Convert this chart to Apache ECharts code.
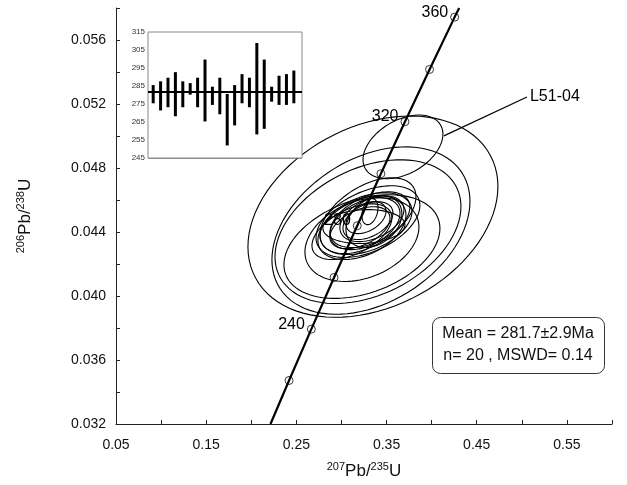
<!DOCTYPE html>
<html>
<head>
<meta charset="utf-8">
<script src="https://cdn.jsdelivr.net/npm/echarts@6/dist/echarts.min.js"></script>
<style>
  html, body { margin: 0; padding: 0; background: #fff; }
  #chart { width: 627px; height: 485px; }
</style>
</head>
<body>
<div id="chart"></div>
<script>
// 谐和线上的年龄点 (Ma)
const concAge = [220, 240, 260, 280, 300, 320, 340, 360]
const concX = [0.2419, 0.2666, 0.2918, 0.3175, 0.3437, 0.3704, 0.3977, 0.4255]
const concY = [0.03472, 0.03793, 0.04116, 0.04439, 0.04764, 0.05089, 0.05416, 0.05743]
// 谐和线两端（伸出到坐标框边缘）
const concEndX = [0.2213, 0.4306]
const concEndY = [0.032, 0.058]

// 误差椭圆：中心、半宽、半高、相关系数
const ellX = [0.3349, 0.3327, 0.3294, 0.3227, 0.3227, 0.3249, 0.3682,
  0.3294, 0.3272, 0.3227, 0.3316, 0.3261, 0.3338, 0.3205, 0.3294, 0.3316, 0.3116, 0.3360, 0.3272, 0.3294]
const ellY = [0.04496, 0.04409, 0.04402, 0.04309, 0.04353, 0.04434, 0.04932,
  0.04465, 0.04452, 0.04427, 0.04477, 0.04452, 0.04483, 0.04427, 0.04471, 0.04527, 0.04402, 0.04465, 0.04490, 0.04502]
const ellSX = [0.1386, 0.1098, 0.1031, 0.0865, 0.0632, 0.0455, 0.0443,
  0.0576, 0.0510, 0.0488, 0.0443, 0.0388, 0.0355, 0.0333, 0.0277, 0.0089, 0.0443, 0.0310, 0.0222, 0.0532]
const ellSY = [0.00629, 0.00523, 0.00449, 0.00324, 0.00262, 0.00106, 0.00199,
  0.00224, 0.00193, 0.00199, 0.00174, 0.00162, 0.00143, 0.00131, 0.00118, 0.00081, 0.00174, 0.00162, 0.00100, 0.00237]
const ellRho = [0.3, 0.35, 0.35, 0.35, 0.3, 0.1, 0.4,
  0.45, 0.4, 0.4, 0.45, 0.4, 0.4, 0.45, 0.4, 0.3, 0.5, 0.3, 0.4, 0.5]

// 样品引线
const leaderX = [0.4136, 0.5057]
const leaderY = [0.05001, 0.05244]
const sampleName = 'L51-04'

// 小图：单点年龄误差棒
const barLow = [275.4, 271.4, 273.2, 268.2, 273.2, 280.2, 273.2, 265.3, 274.5, 269.3,
  252.0, 263.1, 275.4, 273.2, 258.1, 261.2, 276.3, 274.5, 274.5, 275.4]
const barHigh = [285.5, 287.6, 289.6, 292.7, 287.6, 286.6, 289.6, 299.7, 284.6, 289.6,
  280.6, 285.5, 291.6, 289.6, 308.9, 299.7, 284.6, 290.7, 291.6, 293.6]
const meanAge = 281.7

const FONT = 'Liberation Sans, Arial, sans-serif'

const chart = echarts.init(document.getElementById('chart'))

// 椭圆数据
const ellData = ellX.map((x, i) => [x, ellY[i], ellSX[i], ellSY[i], ellRho[i]])

const renderEllipse = (params, api) => {
  const cx = api.value(0), cy = api.value(1)
  const sx = api.value(2), sy = api.value(3), rho = api.value(4)
  const k = Math.sqrt(1 - rho * rho)
  const pts = []
  for (let i = 0; i < 90; i++) {
    const t = (i / 90) * Math.PI * 2
    pts.push(api.coord([cx + sx * Math.cos(t), cy + sy * (rho * Math.cos(t) + k * Math.sin(t))]))
  }
  return {
    type: 'polygon',
    shape: { points: pts },
    style: { fill: 'none', stroke: '#000', lineWidth: 1.1 },
  }
}

const renderBar = (params, api) => {
  const p1 = api.coord([api.value(0), api.value(1)])
  const p2 = api.coord([api.value(0), api.value(2)])
  return {
    type: 'rect',
    shape: { x: p1[0] - 1.5, y: p2[1], width: 3, height: p1[1] - p2[1] },
    style: { fill: '#000' },
  }
}

const lineData = [[concEndX[0], concEndY[0]]]
concX.forEach((x, i) => lineData.push([x, concY[i]]))
lineData.push([concEndX[1], concEndY[1]])

const markerData = concX.map((x, i) => ({
  value: [x, concY[i], concAge[i]],
  label: { show: concAge[i] % 40 === 0 },
}))

const barData = barLow.map((lo, i) => [i + 1, lo, barHigh[i]])

const option = {
  animation: false,
  textStyle: { fontFamily: FONT },
  grid: [
    { left: 116, right: 15, top: 8, bottom: 60 },
    { left: 148, top: 32, width: 154, height: 126, show: true, borderColor: '#888', borderWidth: 1, backgroundColor: '#fff', z: 5 },
  ],
  xAxis: [
    {
      type: 'value', gridIndex: 0, min: 0.05, max: 0.6, interval: 0.05,
      axisLine: { lineStyle: { color: '#222' } },
      axisTick: { inside: true, length: 4, lineStyle: { color: '#222' } },
      splitLine: { show: false },
      axisLabel: {
        color: '#111', fontSize: 14, fontFamily: FONT, margin: 14,
        formatter: (v, i) => (i % 2 === 0 ? v.toFixed(2) : ''),
      },
      name: '{sup|207}{m|Pb/}{sup|235}{m|U}',
      nameLocation: 'middle', nameGap: 37,
      nameTextStyle: {
        rich: {
          sup: { fontSize: 11, fontFamily: FONT, color: '#111', verticalAlign: 'top', padding: [0, 0, 8, 0] },
          m: { fontSize: 17, fontFamily: FONT, color: '#111', verticalAlign: 'bottom' },
        },
      },
    },
    {
      type: 'value', gridIndex: 1, min: 0.3, max: 21.1, show: false,
    },
  ],
  yAxis: [
    {
      type: 'value', gridIndex: 0, min: 0.032, max: 0.058, interval: 0.002,
      axisLine: { show: true, lineStyle: { color: '#222' } },
      axisTick: { show: true, inside: true, length: 4, lineStyle: { color: '#222' } },
      splitLine: { show: false },
      axisLabel: {
        color: '#111', fontSize: 14, fontFamily: FONT, margin: 10,
        formatter: (v, i) => (i % 2 === 0 ? v.toFixed(3) : ''),
      },
      name: '{sup|206}{m|Pb/}{sup|238}{m|U}',
      nameLocation: 'middle', nameGap: 82, nameRotate: 90,
      nameTextStyle: {
        rich: {
          sup: { fontSize: 11, fontFamily: FONT, color: '#111', verticalAlign: 'top', padding: [0, 0, 8, 0] },
          m: { fontSize: 17, fontFamily: FONT, color: '#111', verticalAlign: 'bottom' },
        },
      },
    },
    {
      type: 'value', gridIndex: 1, min: 245, max: 315, interval: 10,
      axisLine: { show: false },
      axisTick: { show: false },
      splitLine: { show: true, lineStyle: { color: '#999', width: 1 } },
      axisLabel: { fontSize: 8, color: '#333', margin: 3, fontFamily: FONT },
    },
  ],
  series: [
    {
      name: 'ages', type: 'scatter', xAxisIndex: 0, yAxisIndex: 0,
      data: markerData, symbol: 'circle', symbolSize: 8, z: 1,
      itemStyle: { color: 'rgba(255,255,255,0)', borderColor: '#222', borderWidth: 0.9, opacity: 1 },
      label: {
        position: 'left', distance: 2, offset: [0, -5],
        fontSize: 16, fontFamily: FONT, color: '#000',
        formatter: (p) => String(p.value[2]),
      },
    },
    {
      name: 'ellipses', type: 'custom', xAxisIndex: 0, yAxisIndex: 0,
      renderItem: renderEllipse, data: ellData, encode: { x: 0, y: 1 }, z: 2, silent: true,
    },
    {
      name: 'concordia', type: 'line', xAxisIndex: 0, yAxisIndex: 0,
      data: lineData, showSymbol: false, symbol: 'none', z: 3,
      lineStyle: { color: '#000', width: 2.2 },
    },
    {
      name: 'leader', type: 'line', xAxisIndex: 0, yAxisIndex: 0,
      data: [[leaderX[0], leaderY[0]], [leaderX[1], leaderY[1]]],
      symbol: 'none', z: 3,
      lineStyle: { color: '#000', width: 1.2 },
      endLabel: {
        show: true, distance: 3,
        fontSize: 16, fontFamily: FONT, color: '#000',
        formatter: () => sampleName,
      },
    },
    {
      name: 'ageBars', type: 'custom', xAxisIndex: 1, yAxisIndex: 1,
      renderItem: renderBar, data: barData, encode: { x: 0, y: [1, 2] }, z: 6,
    },
    {
      name: 'mean', type: 'line', xAxisIndex: 1, yAxisIndex: 1,
      data: [[0.3, meanAge], [21.1, meanAge]], symbol: 'none', z: 7,
      lineStyle: { color: '#000', width: 2 },
    },
  ],
  graphic: [
    {
      type: 'rect', left: 432, top: 317, z: 10,
      shape: { width: 172, height: 56, r: 8 },
      style: { fill: '#fff', stroke: '#333', lineWidth: 1 },
    },
    {
      type: 'text', z: 11, x: 518, y: 334,
      style: {
        text: 'Mean = 281.7±2.9Ma', font: '16px ' + FONT, fill: '#111',
        align: 'center', verticalAlign: 'middle', textAlign: 'center', textVerticalAlign: 'middle',
      },
    },
    {
      type: 'text', z: 11, x: 518, y: 356,
      style: {
        text: 'n= 20 , MSWD= 0.14', font: '16px ' + FONT, fill: '#111',
        align: 'center', verticalAlign: 'middle', textAlign: 'center', textVerticalAlign: 'middle',
      },
    },
  ],
}

chart.setOption(option)
window.addEventListener('resize', () => chart.resize())
</script>
</body>
</html>
